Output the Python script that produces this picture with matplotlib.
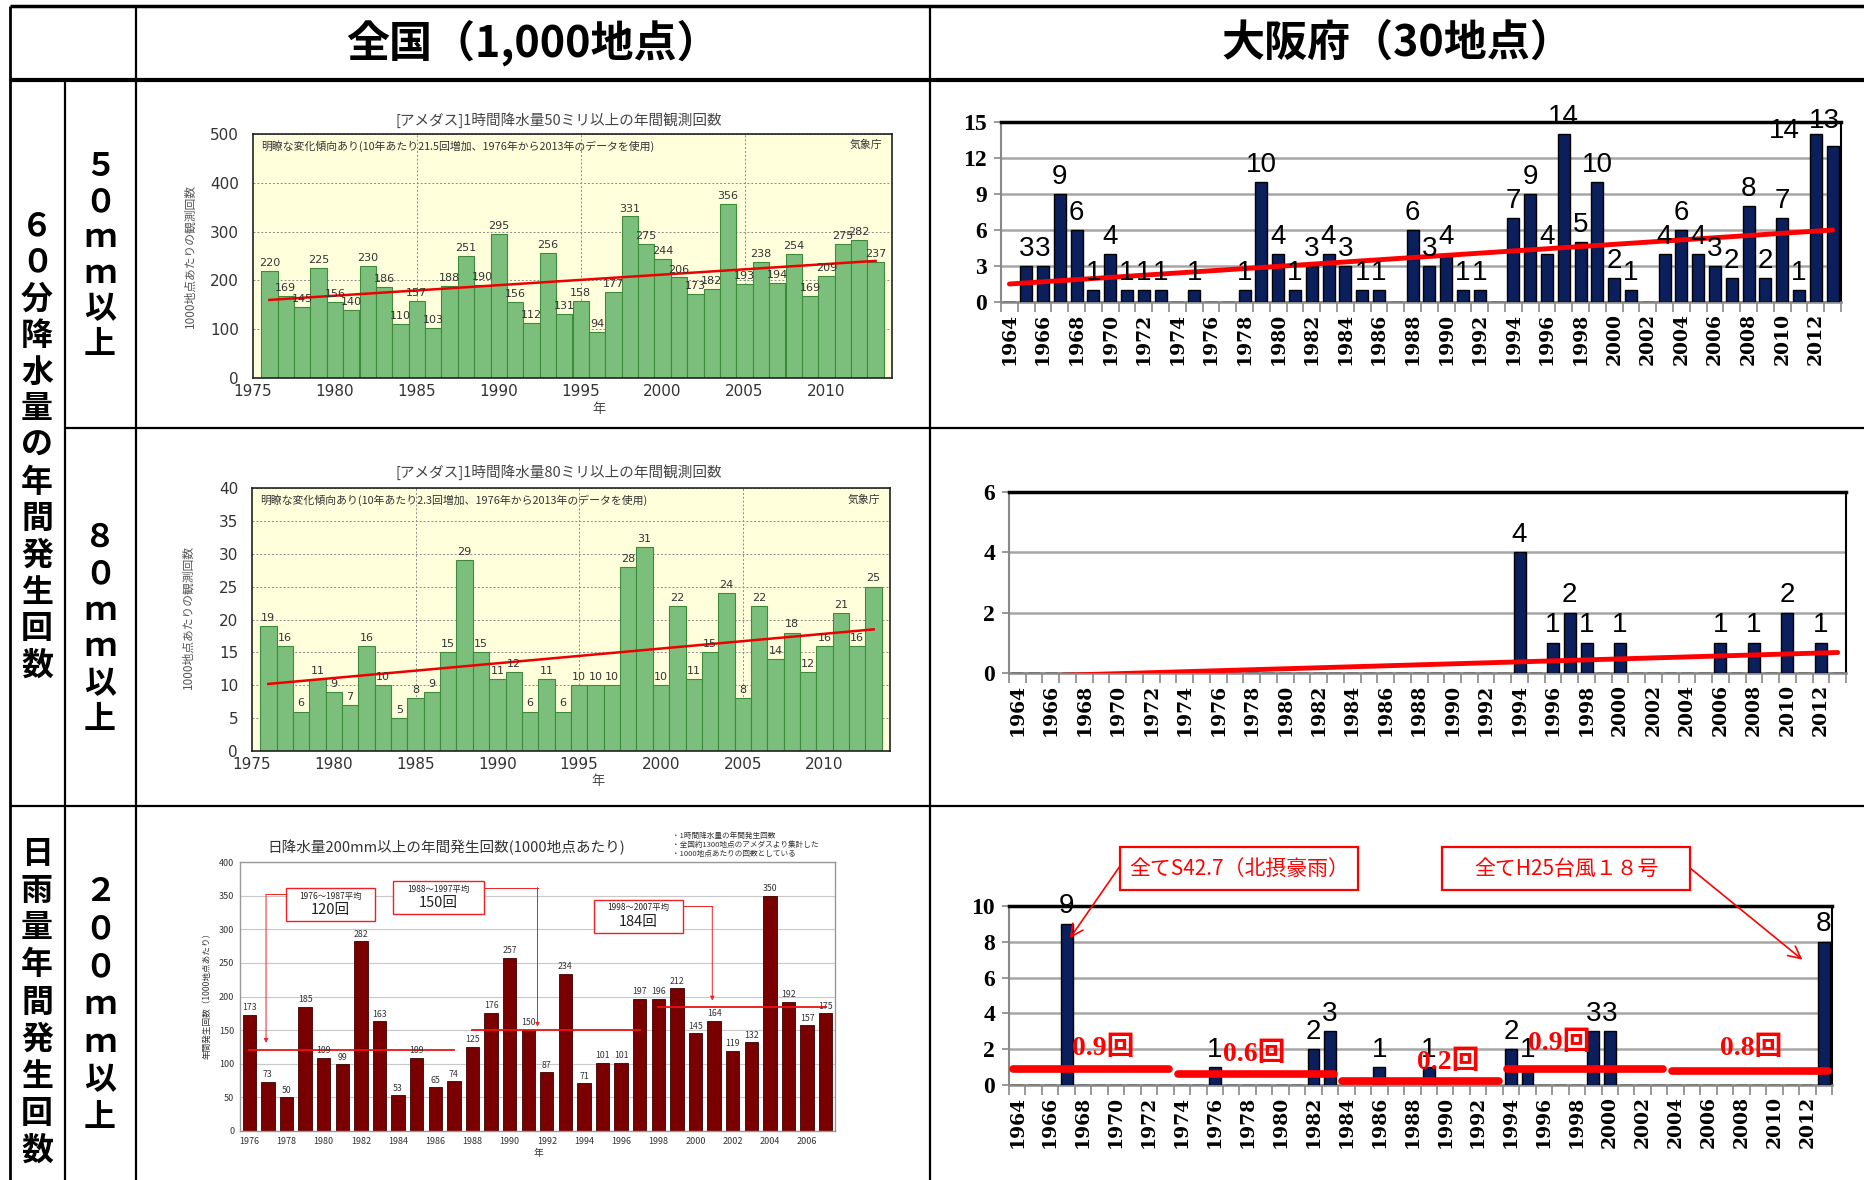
import numpy as np
import matplotlib
matplotlib.use('Agg')
import matplotlib.pyplot as plt
from matplotlib.patches import Rectangle

plt.rcParams['font.family'] = ['Noto Sans CJK JP', 'DejaVu Sans']

W, H = 1865, 1180
DPI = 100

# ---------------- data ----------------
nat_years = list(range(1976, 2014))
nat_50 = [220, 169, 145, 225, 156, 140, 230, 186, 110, 157, 103, 188, 251, 190, 295, 156, 112, 256, 131,
          158, 94, 177, 331, 275, 244, 206, 173, 182, 356, 193, 238, 194, 254, 169, 209, 275, 282, 237]
nat_50_trend = [160, 240]
nat_80 = [19, 16, 6, 11, 9, 7, 16, 10, 5, 8, 9, 15, 29, 15, 11, 12, 6, 11, 6,
          10, 10, 10, 28, 31, 10, 22, 11, 15, 24, 8, 22, 14, 18, 12, 16, 21, 16, 25]
nat_80_trend = [10.2, 18.5]

day_years = list(range(1976, 2008))
day_200 = [173, 73, 50, 185, 109, 99, 282, 163, 53, 109, 65, 74, 125, 176, 257, 150,
           87, 234, 71, 101, 101, 197, 196, 212, 145, 164, 119, 132, 350, 192, 157, 175]
day_avg_periods = [(1976, 1987), (1988, 1997), (1998, 2007)]
day_avg_values = [120, 150, 184]

osk_years = list(range(1964, 2014))
osk_50 = [0, 3, 3, 9, 6, 1, 4, 1, 1, 1, 0, 1, 0, 0, 1, 10, 4, 1, 3, 4, 3, 1, 1, 0, 6,
          3, 4, 1, 1, 0, 7, 9, 4, 14, 5, 10, 2, 1, 0, 4, 6, 4, 3, 2, 8, 2, 7, 1, 14, 13]
osk_50_trend = [1.5, 6.0]
osk_80 = [0, 0, 0, 0, 0, 0, 0, 0, 0, 0, 0, 0, 0, 0, 0, 0, 0, 0, 0, 0, 0, 0, 0, 0, 0,
          0, 0, 0, 0, 0, 4, 0, 1, 2, 1, 0, 1, 0, 0, 0, 0, 0, 1, 0, 1, 0, 2, 0, 1, 0]
osk_80_trend = [-0.12, 0.68]
osk_200 = [0, 0, 0, 9, 0, 0, 0, 0, 0, 0, 0, 0, 1, 0, 0, 0, 0, 0, 2, 3, 0, 0, 1, 0, 0,
           1, 0, 0, 0, 0, 2, 1, 0, 0, 0, 3, 3, 0, 0, 0, 0, 0, 0, 0, 0, 0, 0, 0, 0, 8]
osk_decades = [1964, 1974, 1984, 1994, 2004]
osk_decade_avg = [0.9, 0.6, 0.2, 0.9, 0.8]
osk_decade_labels = ['0.9回', '0.6回', '0.2回', '0.9回', '0.8回']

# ---------------- figure ----------------
fig = plt.figure(figsize=(W / DPI, H / DPI), dpi=DPI)
fig.patch.set_facecolor('white')

ov = fig.add_axes([0, 0, 1, 1])
ov.set_xlim(0, W)
ov.set_ylim(H, 0)
ov.axis('off')


def add_ax(x0, y0, x1, y1):
    return fig.add_axes([x0 / W, 1 - y1 / H, (x1 - x0) / W, (y1 - y0) / H])


def hline(y, x0, x1, lw):
    ov.plot([x0, x1], [y, y], color='black', lw=lw, solid_capstyle='butt')


def vline(x, y0, y1, lw):
    ov.plot([x, x], [y0, y1], color='black', lw=lw, solid_capstyle='butt')


# table grid
hline(6, 10, W, 2.5)
hline(80, 10, W, 3.0)
hline(428, 65, W, 1.6)
hline(806, 10, W, 1.6)
vline(10, 6, H, 2.0)
vline(65, 80, H, 1.6)
vline(136, 6, H, 1.6)
vline(930, 6, H, 1.6)

ov.text(533, 43, '全国（1,000地点）', ha='center', va='center', fontsize=31, fontweight='bold')
ov.text(1397, 43, '大阪府（30地点）', ha='center', va='center', fontsize=31, fontweight='bold')


def vtext(x, y0, y1, s, size):
    n = len(s)
    for k, ch in enumerate(s):
        y = y0 + (y1 - y0) * k / (n - 1)
        ov.text(x, y, ch, ha='center', va='center', fontsize=size, fontweight='bold')


vtext(37, 226, 666, '６０分降水量の年間発生回数', 23)
vtext(100, 167, 345, '５０ｍｍ以上', 23)
vtext(100, 538, 720, '８０ｍｍ以上', 23)
vtext(37, 854, 1151, '日雨量年間発生回数', 23)
vtext(100, 892, 1118, '２００ｍｍ以上', 23)


# ---------------- national hourly charts ----------------
def national(ax, vals, trend, ymax, ystep, note):
    ax.set_facecolor('#ffffdc')
    ax.bar(nat_years, vals, width=1.0, color='#7cbf7c', edgecolor='#3d8a3d', linewidth=0.8, zorder=2)
    ax.plot([nat_years[0], nat_years[-1]], trend, color='#ee0000', lw=1.8, zorder=4)
    for x, v in zip(nat_years, vals):
        ax.text(x, v + ymax * 0.012, str(v), ha='center', va='bottom', fontsize=8,
                color='#333333', family='DejaVu Sans', zorder=5)
    ax.set_xlim(1975, 2014)
    ax.set_ylim(0, ymax)
    ax.set_xticks(range(1975, 2011, 5))
    ax.set_yticks(np.arange(0, ymax + 0.1, ystep))
    ax.yaxis.grid(True, ls=(0, (2, 2)), color='#8a8a8a', lw=0.7)
    for xv in (1985, 1995, 2005):
        ax.axvline(xv, ls=(0, (2, 2)), color='#8a8a8a', lw=0.7, zorder=1)
    ax.set_axisbelow(True)
    ax.tick_params(axis='y', length=0, labelsize=11, labelcolor='#333333', pad=10)
    ax.tick_params(axis='x', length=0, labelsize=11, labelcolor='#333333', pad=4)
    for lab in ax.get_xticklabels() + ax.get_yticklabels():
        lab.set_fontfamily('DejaVu Sans')
    for sp in ax.spines.values():
        sp.set_color('#222222')
        sp.set_linewidth(1.2)
    ax.text(0.012, 0.975, note, transform=ax.transAxes, ha='left', va='top', fontsize=7.8, color='#333333')
    ax.text(0.985, 0.975, '気象庁', transform=ax.transAxes, ha='right', va='top', fontsize=7.8, color='#333333')


ax1 = add_ax(253, 134, 892, 378)
national(ax1, nat_50, nat_50_trend, 500, 100,
         '明瞭な変化傾向あり(10年あたり21.5回増加、1976年から2013年のデータを使用)')
ov.text(559, 120, '[アメダス]1時間降水量50ミリ以上の年間観測回数', ha='center', va='center', fontsize=10.5, color='#444444')
ov.text(599, 409, '年', ha='center', va='center', fontsize=9.5, color='#444444')
ov.text(190, 256, '1000地点あたりの観測回数', ha='center', va='center', rotation=90, fontsize=8.5, color='#555555')

ax2 = add_ax(252, 488, 890, 751)
national(ax2, nat_80, nat_80_trend, 40, 5,
         '明瞭な変化傾向あり(10年あたり2.3回増加、1976年から2013年のデータを使用)')
ov.text(559, 472, '[アメダス]1時間降水量80ミリ以上の年間観測回数', ha='center', va='center', fontsize=10.5, color='#444444')
ov.text(598, 782, '年', ha='center', va='center', fontsize=9.5, color='#444444')
ov.text(188, 617, '1000地点あたりの観測回数', ha='center', va='center', rotation=90, fontsize=8.5, color='#555555')

# ---------------- national daily 200mm chart ----------------
ax3 = add_ax(240, 862, 835, 1131)
ax3.bar(day_years, day_200, width=0.72, color='#7a0000', edgecolor='#3a0000', linewidth=0.6, zorder=2)
for x, v in zip(day_years, day_200):
    ax3.text(x, v + 4, str(v), ha='center', va='bottom', fontsize=6.3, color='#333333', zorder=5)
ax3.set_xlim(1975.5, 2007.5)
ax3.set_ylim(0, 400)
ax3.set_yticks(range(0, 401, 50))
ax3.set_xticks(range(1976, 2007, 2))
ax3.yaxis.grid(True, color='#c8c8c8', lw=0.8)
ax3.set_axisbelow(True)
ax3.tick_params(length=0, labelsize=6.5, labelcolor='#333333', pad=4)
for sp in ax3.spines.values():
    sp.set_color('#999999')
    sp.set_linewidth(1.0)
for (a, b), v in zip(day_avg_periods, day_avg_values):
    ax3.plot([a, b], [v, v], color='#ee1111', lw=1.3, zorder=4)

boxes = [((1978.0, 312), (1982.76, 361), '1976～1987平均', '120回'),
         ((1983.75, 322), (1988.6, 372), '1988～1997平均', '150回'),
         ((1994.56, 295), (1999.3, 344), '1998～2007平均', '184回')]
for (bx0, by0), (bx1, by1), l1, l2 in boxes:
    ax3.add_patch(Rectangle((bx0, by0), bx1 - bx0, by1 - by0, facecolor='white', edgecolor='#ee2222', lw=1.0, zorder=6))
    ax3.text((bx0 + bx1) / 2, by1 - (by1 - by0) * 0.25, l1, ha='center', va='center', fontsize=6, color='#222222', zorder=7)
    ax3.text((bx0 + bx1) / 2, by0 + (by1 - by0) * 0.33, l2, ha='center', va='center', fontsize=10.5, color='#222222', zorder=7)

arrows = [([1978.0, 1976.9], 352, 131), ([1988.6, 1991.5], 362, 155), ([1999.3, 2000.9], 334, 194)]
for (xa, xb), ya, yb in arrows:
    ax3.plot([xa, xb], [ya, ya], color='#ee2222', lw=0.7, zorder=6)
    ax3.annotate('', xy=(xb, yb), xytext=(xb, ya),
                 arrowprops=dict(arrowstyle='-|>', color='#ee2222', lw=0.7, mutation_scale=6,
                                 shrinkA=0, shrinkB=0), zorder=6)

ov.text(446, 847, '日降水量200mm以上の年間発生回数(1000地点あたり)', ha='center', va='center', fontsize=10.5, color='#333333')
ov.text(672, 836, '・1時間降水量の年間発生回数', ha='left', va='center', fontsize=5.5, color='#333333')
ov.text(672, 845, '・全国約1300地点のアメダスより集計した', ha='left', va='center', fontsize=5.5, color='#333333')
ov.text(672, 854, '・1000地点あたりの回数としている', ha='left', va='center', fontsize=5.5, color='#333333')
ov.text(538, 1153, '年', ha='center', va='center', fontsize=7, color='#333333')
ov.text(207, 993, '年間発生回数（1000地点あたり）', ha='center', va='center', rotation=90, fontsize=6.2, color='#333333')

# ---------------- Osaka charts ----------------
NAVY = '#0b1f5c'
NARROW = ['Liberation Sans Narrow', 'Liberation Sans']


def osaka(ax, vals, ymax, ystep, labsize=20, offsets=None):
    offsets = offsets or {}
    ax.patch.set_visible(False)
    ax.bar(osk_years, vals, width=0.72, color=NAVY, edgecolor='black', linewidth=1.0, zorder=3)
    ax.set_xlim(1963.5, 2013.5)
    ax.set_ylim(0, ymax)
    yt = list(range(0, ymax + 1, ystep))
    ax.set_yticks(yt)
    ax.set_yticklabels([str(v) for v in yt], fontfamily='Liberation Serif', fontweight='bold', fontsize=17)
    ax.yaxis.grid(True, color='#a6a6a6', lw=1.8)
    ax.set_axisbelow(True)
    ax.set_xticks(osk_years[::2])
    ax.set_xticklabels([str(y) for y in osk_years[::2]], rotation=90, fontfamily='DejaVu Serif',
                       fontweight='bold', fontsize=13.5)
    ax.set_xticks(np.arange(1963.5, 2014, 1.0), minor=True)
    ax.tick_params(axis='x', which='major', length=0, pad=8)
    ax.tick_params(axis='x', which='minor', length=7, color='#888888', width=1.2)
    ax.tick_params(axis='y', length=5, color='#888888', width=1.2, pad=5)
    ax.spines['top'].set_color('black')
    ax.spines['top'].set_linewidth(2.5)
    ax.spines['right'].set_color('black')
    ax.spines['right'].set_linewidth(1.5)
    ax.spines['left'].set_color('#888888')
    ax.spines['left'].set_linewidth(1.5)
    ax.spines['bottom'].set_color('#888888')
    ax.spines['bottom'].set_linewidth(1.8)
    for x, v in zip(osk_years, vals):
        if v > 0:
            dx, dy = offsets.get(x, (0, 0))
            ax.text(x + dx, v + ymax * 0.025 + dy, str(v), ha='center', va='bottom', fontsize=labsize,
                    family=NARROW, color='black', zorder=5)


ax4 = add_ax(1001, 122, 1841, 302)
osaka(ax4, osk_50, 15, 3, offsets={2012: (-1.9, -1.2), 2013: (-0.5, 0.6)})
ax4.plot([osk_years[0], osk_years[-1]], osk_50_trend, color='#ff0000', lw=3.5, zorder=4, solid_capstyle='round')

ax5 = add_ax(1009, 492, 1846, 673)
osaka(ax5, osk_80, 6, 2)
ax5.plot([osk_years[0], osk_years[-1]], osk_80_trend, color='#ff0000', lw=3.5, zorder=4, solid_capstyle='round')

ax6 = add_ax(1009, 906, 1832, 1085)
osaka(ax6, osk_200, 10, 2)
label_pos = [(1969.2, 2.05), (1978.4, 1.7), (1990.2, 1.25), (1996.9, 2.3), (2008.6, 2.05)]
for start, avg, lab, (lx, ly) in zip(osk_decades, osk_decade_avg, osk_decade_labels, label_pos):
    ax6.plot([start - 0.25, start + 9.25], [avg, avg], color='#ff0000', lw=5.5, zorder=6, solid_capstyle='round')
    ax6.text(lx, ly, lab, ha='center', va='center', fontsize=20, fontweight='bold', color='#ff0000',
             family=['Liberation Serif', 'Noto Sans CJK JP'], zorder=7)

# annotation boxes (figure pixel coords)
for (bx0, by0, bx1, by1, txt) in [(1120, 847, 1358, 890, '全てS42.7（北摂豪雨）'),
                                  (1442, 847, 1690, 890, '全てH25台風１８号')]:
    ov.add_patch(Rectangle((bx0, by0), bx1 - bx0, by1 - by0, facecolor='white', edgecolor='#ff0000', lw=1.6, zorder=5))
    ov.text((bx0 + bx1) / 2, (by0 + by1) / 2, txt, ha='center', va='center', fontsize=15, color='#ff0000', zorder=6)

ax6.annotate('', xy=(1967.2, 8.2), xycoords='data', xytext=(1120, H - 866), textcoords='figure pixels',
             arrowprops=dict(arrowstyle='->', color='#ff0000', lw=1.2, mutation_scale=22, shrinkA=0, shrinkB=0),
             annotation_clip=False, zorder=8)
ax6.annotate('', xy=(2011.7, 7.0), xycoords='data', xytext=(1690, H - 868), textcoords='figure pixels',
             arrowprops=dict(arrowstyle='->', color='#ff0000', lw=1.2, mutation_scale=22, shrinkA=0, shrinkB=0),
             annotation_clip=False, zorder=8)

fig.savefig('out.png', dpi=DPI, facecolor='white')
